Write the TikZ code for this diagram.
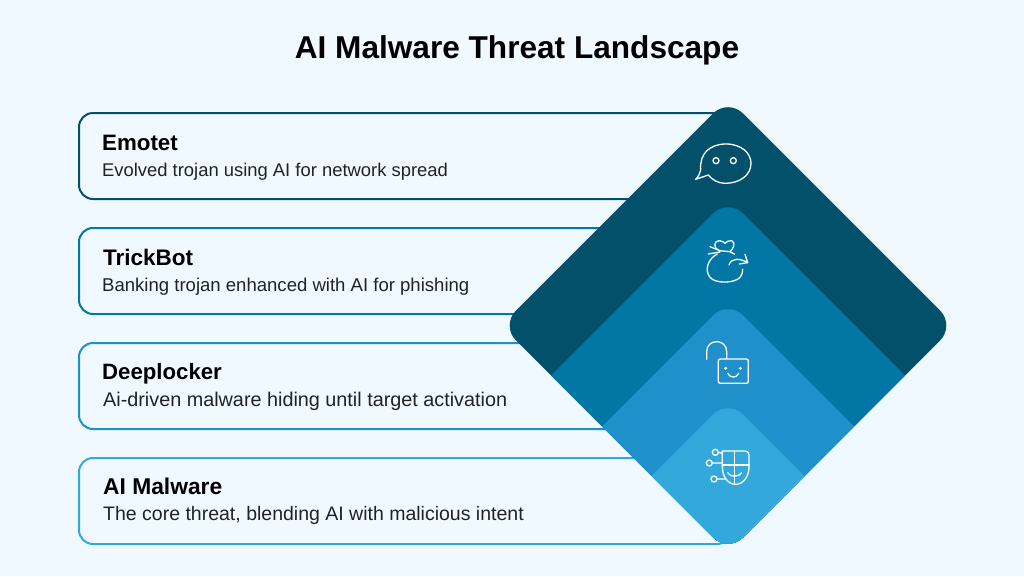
\documentclass[tikz,border=0pt]{standalone}
\usepackage{fontspec}
\setmainfont{Liberation Sans}
\definecolor{bgc}{HTML}{F0F9FF}
\definecolor{cA}{HTML}{03506B}
\definecolor{cB}{HTML}{0276A5}
\definecolor{cC}{HTML}{1F90C9}
\definecolor{cD}{HTML}{33A8DA}
\definecolor{txt}{HTML}{1F2326}
\tikzset{
  card/.style={draw=#1,line width=2pt,rounded corners=14pt,fill=bgc,minimum width=652pt,minimum height=86pt,inner sep=0pt,anchor=north west},
  headtext/.style={anchor=base west,inner sep=0pt,text=black,font=\fontsize{#1}{28}\selectfont\bfseries},
  desctext/.style={anchor=base west,inner sep=0pt,text=txt,font=\fontsize{#1}{22}\selectfont},
  icon/.style={draw=white,line width=1.3pt,line cap=round,line join=round,fill=none}
}
\begin{document}
\begin{tikzpicture}[x=1pt,y=-1pt]
\useasboundingbox (0,0) rectangle (1024,576);
\fill[bgc] (0,0) rectangle (1024,576);
\node[anchor=base,inner sep=0pt,text=black,font=\fontsize{31.6}{38}\selectfont\bfseries] (title) at (517,58.5) {AI Malware Threat Landscape};
\node[card=cA] (c1) at (78,112) {};
\node[card=cB] (c2) at (78,227) {};
\node[card=cC] (c3) at (78,342) {};
\node[card=cD] (c4) at (78,457) {};
\node[headtext=22.3] (h1) at (102,150) {Emotet};
\node[desctext=18.4] (d1) at (102,176.5) {Evolved trojan using AI for network spread};
\node[headtext=22.5] (h2) at (103,265) {TrickBot};
\node[desctext=18.55] (d2) at (102,291.5) {Banking trojan enhanced with AI for phishing};
\node[headtext=22.2] (h3) at (102,379.5) {Deeplocker};
\node[desctext=19.8] (d3) at (103,406.5) {Ai-driven malware hiding until target activation};
\node[headtext=22.8] (h4) at (103,494) {AI Malware};
\node[desctext=19.5] (d4) at (103,520.7) {The core threat, blending AI with malicious intent};
\begin{scope}
\clip[rounded corners=21pt] (728,98.5) -- (955,325.5) -- (728,552.5) -- (501,325.5) -- cycle;
\fill[cA] (400,0) rectangle (1000,600);
\fill[cB,rounded corners=21pt] (728,198.5) -- (1028,498.5) -- (728,798.5) -- (428,498.5) -- cycle;
\fill[cC,rounded corners=21pt] (728,300.5) -- (1028,600.5) -- (728,900.5) -- (428,600.5) -- cycle;
\fill[cD,rounded corners=21pt] (728,399.5) -- (1028,699.5) -- (728,999.5) -- (428,699.5) -- cycle;
\end{scope}
% speech bubble
\begin{scope}[shift={(680,120)},x=0.3333pt,y=-0.3333pt]
\draw[icon] (62,150) .. controls (58,100) and (90,72) .. (138,72) .. controls (185,72) and (213,100) .. (213,130) .. controls (213,165) and (180,190) .. (135,190) .. controls (115,190) and (97,180) .. (85,165) -- (47,178) .. controls (55,170) and (60,160) .. (62,150) -- cycle;
\draw[icon] (108,122) circle[radius=9];
\draw[icon] (160,122) circle[radius=9];
% bag
\draw[icon] (117,392) .. controls (100,385) and (100,362) .. (118,362) .. controls (128,362) and (132,368) .. (135,370) .. controls (140,366) and (146,360) .. (155,362) .. controls (168,368) and (160,388) .. (150,395) -- cycle;
\draw[icon] (90,380) -- (120,392) (85,402) -- (120,396) (150,395) -- (164,403);
\draw[icon] (112,402) .. controls (85,415) and (72,450) .. (90,472) .. controls (105,492) and (165,490) .. (180,472) .. controls (186,465) and (188,458) .. (188,448);
\draw[icon] (147,435) .. controls (155,412) and (180,415) .. (203,428);
\draw[icon] (195,403) -- (203,428) -- (178,432);
\end{scope}
\begin{scope}[shift={(680,320)},x=0.3333pt,y=-0.3333pt]
% lock
\draw[icon] (80,118) -- (80,95) .. controls (80,55) and (140,55) .. (140,95) -- (140,115);
\draw[icon,rounded corners=2pt] (115,117) rectangle (205,190);
\fill[white] (137,145) circle[radius=5];
\fill[white] (181,145) circle[radius=5];
\draw[icon] (143,160) .. controls (150,175) and (170,175) .. (176,160);
% shield
\draw[icon] (127,393) -- (195,393) .. controls (203,393) and (207,398) .. (207,405) -- (207,440) .. controls (207,470) and (190,493) .. (167,493) .. controls (144,493) and (127,470) .. (127,440) -- cycle;
\draw[icon] (163,393) -- (163,493) (127,435) -- (207,435);
\draw[icon] (143,458) .. controls (148,472) and (178,472) .. (185,458);
\draw[icon] (106,397) circle[radius=9];
\draw[icon] (88,429) circle[radius=9];
\draw[icon] (102,477) circle[radius=9];
\draw[icon] (115,397) -- (127,400) (98,429) -- (127,429) (112,477) -- (138,477);
\end{scope}
\end{tikzpicture}
\end{document}
